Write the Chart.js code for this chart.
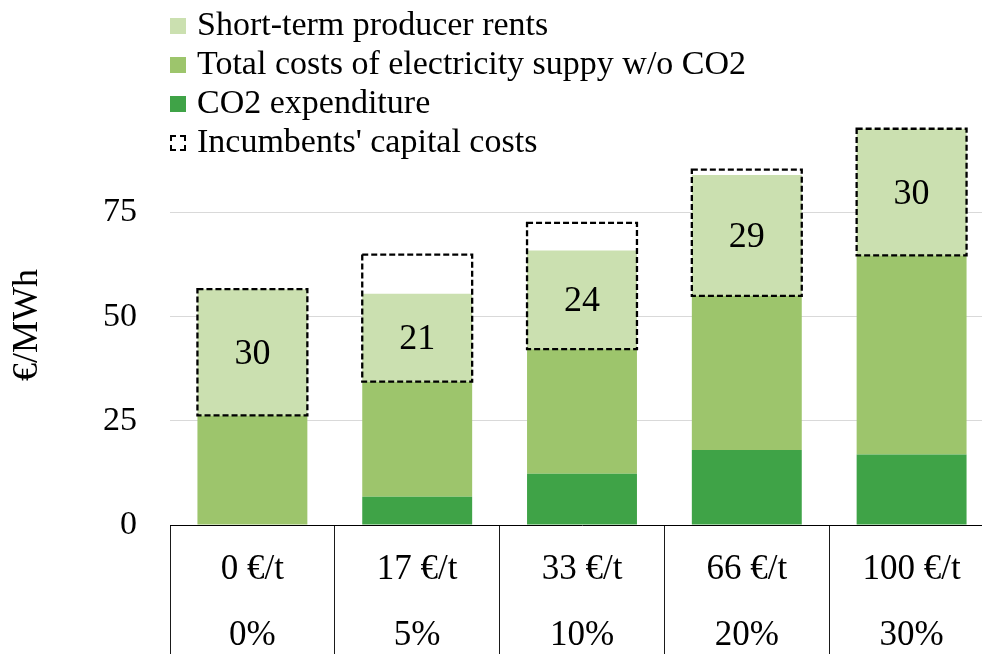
<!DOCTYPE html>
<html><head><meta charset="utf-8">
<script src="https://cdn.jsdelivr.net/npm/chart.js@4.4.0/dist/chart.umd.min.js"></script>
<style>
html,body{margin:0;padding:0;background:#fff;overflow:hidden;width:982px;height:654px;}
#wrap{position:absolute;left:0;top:0;width:994px;height:654px;}
#legend{position:absolute;left:170px;top:4px;font-family:'Liberation Serif','Times New Roman',serif;font-size:34px;line-height:39px;color:#000;}
.row{display:flex;align-items:center;height:39px;white-space:nowrap}
.sw{width:16px;height:16px;margin-right:11px;box-sizing:border-box;position:relative;top:2px;flex:none}
</style></head><body>
<div id="wrap"><canvas id="c"></canvas></div>
<div id="legend"></div>
<script>
const categories = ['0 €/t', '17 €/t', '33 €/t', '66 €/t', '100 €/t'];
const shares = ['0%', '5%', '10%', '20%', '30%'];
const co2Expenditure = [0, 6.8, 12.3, 18.0, 16.9];
const costsWithoutCO2 = [26.3, 27.6, 29.9, 37.0, 47.8];
const producerRents = [30.3, 21.1, 23.7, 29.0, 30.4];
const capitalCosts = [30.3, 30.5, 30.3, 30.3, 30.4];
const yTicks = [0, 25, 50, 75];

const FONT = "'Liberation Serif', 'Times New Roman', serif";
const colors = { co2: '#3fa347', other: '#9dc56c', rents: '#cbe0b0' };

const capitalRanges = capitalCosts.map((v, i) => {
  const start = co2Expenditure[i] + costsWithoutCO2[i];
  return [start, start + v];
});

const overlay = {
  id: 'overlay',
  afterDatasetsDraw(chart) {
    const ctx = chart.ctx;
    const capMeta = chart.getDatasetMeta(3);
    ctx.save();
    ctx.strokeStyle = '#000';
    ctx.lineWidth = 2.3;
    ctx.setLineDash([6, 3]);
    capMeta.data.forEach(el => {
      const p = el.getProps(['x', 'y', 'base', 'width'], true);
      ctx.strokeRect(p.x - p.width / 2, Math.min(p.y, p.base), p.width, Math.abs(p.base - p.y));
    });
    ctx.restore();
    const rentMeta = chart.getDatasetMeta(2);
    ctx.save();
    ctx.font = "36px " + FONT;
    ctx.fillStyle = '#000';
    ctx.textAlign = 'center';
    ctx.textBaseline = 'middle';
    rentMeta.data.forEach((el, i) => {
      const p = el.getProps(['x', 'y', 'base'], true);
      ctx.fillText(String(Math.round(producerRents[i])), p.x, (p.y + p.base) / 2 + 2);
    });
    ctx.restore();
  }
};

const chart = new Chart(document.getElementById('c'), {
  type: 'bar',
  data: {
    labels: categories.map((c, i) => [c, shares[i]]),
    datasets: [
      { label: 'CO2 expenditure', data: co2Expenditure, backgroundColor: colors.co2, stack: 'a' },
      { label: 'Total costs of electricity suppy w/o CO2', data: costsWithoutCO2, backgroundColor: colors.other, stack: 'a' },
      { label: 'Short-term producer rents', data: producerRents, backgroundColor: colors.rents, stack: 'a' },
      { label: "Incumbents' capital costs", data: capitalRanges, backgroundColor: 'rgba(0,0,0,0)', borderWidth: 0, stack: 'cap', grouped: false }
    ]
  },
  options: {
    responsive: true,
    maintainAspectRatio: false,
    animation: false,
    barPercentage: 0.667,
    categoryPercentage: 1.0,
    layout: { padding: { top: 125, left: 0, right: 0, bottom: 0 } },
    plugins: { legend: { display: false }, tooltip: { enabled: false } },
    scales: {
      x: {
        stacked: true,
        grid: { display: true, drawOnChartArea: false, drawTicks: true, tickLength: 129, color: '#1a1a1a', lineWidth: 1, offset: true },
        border: { display: true, color: '#000', width: 1 },
        ticks: { font: { family: FONT, size: 35, lineHeight: 1.9 }, color: '#000', padding: -117.5, maxRotation: 0, minRotation: 0, autoSkip: false },
        afterFit: s => { s.height = 129; }
      },
      y: {
        stacked: true,
        min: 0,
        max: 96,
        afterBuildTicks: s => { s.ticks = yTicks.map(v => ({ value: v })); },
        grid: { color: c => (c.tick && c.tick.value === 0) ? 'rgba(0,0,0,0)' : '#d9d9d9', drawTicks: false, lineWidth: 1 },
        border: { display: false },
        ticks: { font: { family: FONT, size: 34 }, color: '#000', padding: 33 },
        title: { display: true, text: '€/MWh', font: { family: FONT, size: 36 }, color: '#000', padding: { top: 6, bottom: 0 } },
        afterFit: s => { s.width = 170; }
      }
    }
  },
  plugins: [overlay]
});

const legend = document.getElementById('legend');
[2, 1, 0, 3].forEach(i => {
  const ds = chart.data.datasets[i];
  const row = document.createElement('div');
  row.className = 'row';
  const sw = document.createElement('span');
  sw.className = 'sw';
  if (i === 3) { sw.style.border = '2px dashed #000'; }
  else { sw.style.background = ds.backgroundColor; }
  const tx = document.createElement('span');
  tx.textContent = ds.label;
  row.appendChild(sw);
  row.appendChild(tx);
  legend.appendChild(row);
});
</script>
</body></html>
